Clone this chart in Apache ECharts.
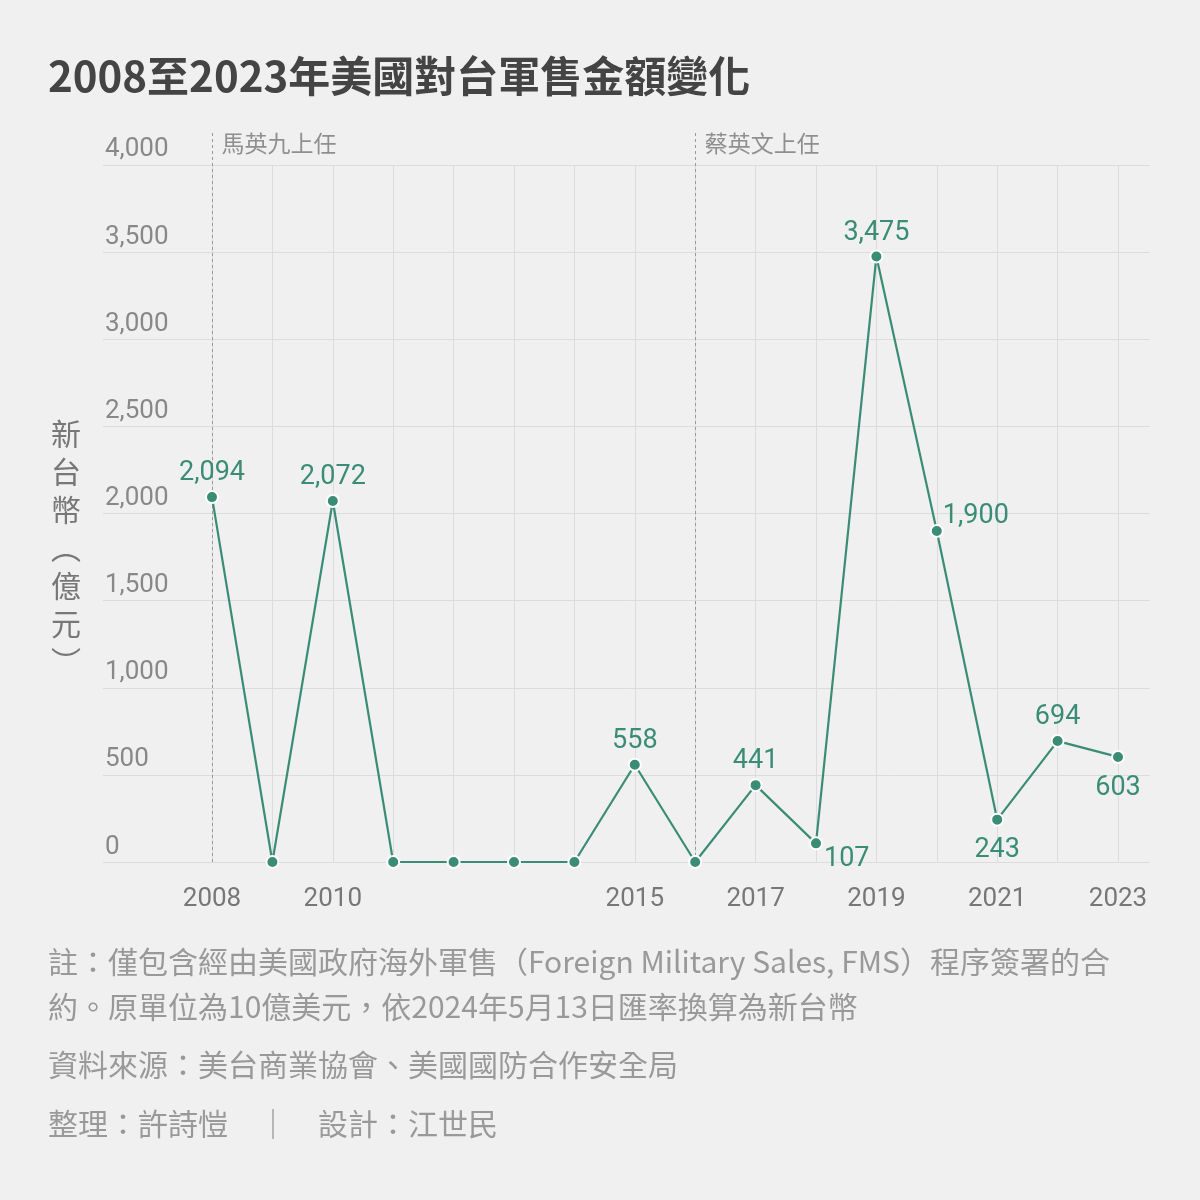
<!DOCTYPE html>
<html><head><meta charset="utf-8">
<script src="https://cdn.jsdelivr.net/npm/echarts@6/dist/echarts.min.js"></script>
<style>html,body{margin:0;padding:0;background:#f0f0f0;}#c{width:1200px;height:1200px;}</style>
</head><body><div id="c"></div>
<script>
const years = [2008,2009,2010,2011,2012,2013,2014,2015,2016,2017,2018,2019,2020,2021,2022,2023];
const amounts = [2094,0,2072,0,0,0,0,558,0,441,107,3475,1900,243,694,603];
const xTickLabels = [2008,2010,2015,2017,2019,2021,2023];
const eventYears = [2008,2016];
const eventNames = ['馬英九上任','蔡英文上任'];
const titleText = '2008至2023年美國對台軍售金額變化';
const yAxisName = '新\n台\n幣\n︵\n億\n元\n︶';
const notes = [
  '註：僅包含經由美國政府海外軍售（Foreign Military Sales, FMS）程序簽署的合',
  '約。原單位為10億美元，依2024年5月13日匯率換算為新台幣',
  '資料來源：美台商業協會、美國國防合作安全局',
  '整理：許詩愷　｜　設計：江世民'
];

const GREEN = '#3a8d74';
const numFont = 'Roboto, "Noto Sans CJK TC", sans-serif';
const cjkFont = '"Noto Sans CJK TC", "Noto Sans", sans-serif';
const fmt = v => v.toLocaleString('en-US');

const labelPlace = {
  2018:{position:'right',offset:[-4,16]},
  2020:{position:'right',offset:[-6,-15]},
  2021:{position:'bottom',distance:10},
  2023:{position:'bottom',distance:11}
};

const lineData = years.map((y,i)=>{
  const v = amounts[i];
  const lp = labelPlace[y] || {position:'top',distance:3};
  return {value:[y,v], label:Object.assign({show: v>0}, lp)};
});

const chart = echarts.init(document.getElementById('c'), null, {renderer:'canvas'});
const option = {
  backgroundColor:'#f0f0f0',
  animation:false,
  title:[
    {text:titleText,left:43,top:50,textStyle:{fontFamily:cjkFont,fontSize:42,fontWeight:'bold',color:'#444'}},
    {text:yAxisName,left:46,top:410,textStyle:{fontFamily:cjkFont,fontSize:30,fontWeight:'normal',color:'#777',lineHeight:38}},
    {text:notes[0]+'\n'+notes[1],left:43,top:934,textStyle:{fontFamily:cjkFont,fontSize:30,fontWeight:'normal',color:'#999',lineHeight:45}},
    {text:notes[2],left:43,top:1045,textStyle:{fontFamily:cjkFont,fontSize:30,fontWeight:'normal',color:'#999'}},
    {text:notes[3],left:43,top:1104,textStyle:{fontFamily:cjkFont,fontSize:30,fontWeight:'normal',color:'#999'}}
  ],
  grid:[
    {left:103,right:50,top:165,bottom:338},
    {left:212,right:82,top:165,bottom:338},
    {left:212,right:82,top:130,bottom:338}
  ],
  xAxis:[
    {gridIndex:0,type:'value',min:0,max:1,show:false},
    {gridIndex:1,type:'value',min:2008,max:2023,interval:1,
      axisLine:{show:false},axisTick:{show:false},
      splitLine:{show:true,lineStyle:{color:'#dcdcdc',width:1}},
      axisLabel:{margin:24,fontFamily:numFont,fontSize:26,color:'#777',
        formatter:v=>xTickLabels.indexOf(v)>=0?String(v):''}},
    {gridIndex:2,type:'value',min:2008,max:2023,show:false}
  ],
  yAxis:[
    {gridIndex:0,type:'value',min:0,max:4000,interval:500,
      axisLine:{show:false},axisTick:{show:false},
      splitLine:{show:true,lineStyle:{color:'#dcdcdc',width:1}},
      axisLabel:{inside:true,margin:2,align:'left',verticalAlign:'bottom',padding:[0,0,2,0],
        fontFamily:numFont,fontSize:26,color:'#888',formatter:v=>fmt(v)}},
    {gridIndex:1,type:'value',min:0,max:4000,interval:500,show:false},
    {gridIndex:2,type:'value',min:0,max:1,show:false}
  ],
  series:[
    {type:'line',xAxisIndex:2,yAxisIndex:2,silent:true,symbol:'none',data:[],
      markLine:{symbol:'none',silent:true,label:{show:false},
        lineStyle:{color:'#999',type:[3,3],width:1},
        data:eventYears.map(y=>[{coord:[y,0]},{coord:[y,1]}])}},
    {type:'scatter',xAxisIndex:2,yAxisIndex:2,silent:true,symbolSize:1,itemStyle:{color:'rgba(0,0,0,0)'},
      data:eventYears.map((y,i)=>({value:[y,0.982],name:eventNames[i]})),
      label:{show:true,position:'right',distance:9,formatter:p=>p.name,fontFamily:cjkFont,fontSize:23,color:'#777'}},
    {type:'line',xAxisIndex:1,yAxisIndex:1,data:lineData,
      lineStyle:{color:GREEN,width:2.2},
      symbol:'circle',symbolSize:12,
      itemStyle:{color:GREEN,borderColor:'#ffffff',borderWidth:2},
      label:{fontFamily:numFont,fontSize:27,color:GREEN,formatter:p=>fmt(p.value[1])},
      z:5}
  ]
};
chart.setOption(option);
</script>
</body></html>
